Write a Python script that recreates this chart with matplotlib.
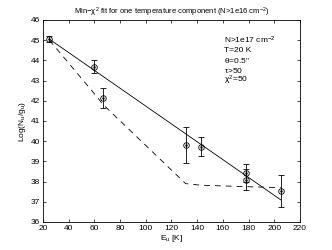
import numpy as np
import matplotlib as mpl
import matplotlib.pyplot as plt

mpl.rcParams['font.family'] = ['Liberation Sans', 'DejaVu Sans']
mpl.rcParams['font.size'] = 6
mpl.rcParams['axes.linewidth'] = 0.6
mpl.rcParams['xtick.direction'] = 'in'
mpl.rcParams['ytick.direction'] = 'in'
mpl.rcParams['xtick.major.size'] = 2.5
mpl.rcParams['ytick.major.size'] = 2.5
mpl.rcParams['xtick.major.width'] = 0.5
mpl.rcParams['ytick.major.width'] = 0.5
mpl.rcParams['mathtext.fontset'] = 'custom'
mpl.rcParams['mathtext.rm'] = 'Liberation Sans'
mpl.rcParams['mathtext.it'] = 'Liberation Sans'

# data points with errors
e_u = np.array([25, 60, 67, 131, 143, 178, 178, 205])
log_ng = np.array([45.07, 43.69, 42.12, 39.81, 39.73, 38.41, 38.1, 37.53])
err = np.array([0.15, 0.33, 0.5, 0.87, 0.46, 0.45, 0.5, 0.8])

# linear fit (solid)
fit_x = [25, 205]
fit_y = [45.05, 37.1]

# model curve (dashed)
model_x = [25, 60, 67, 131, 143, 178, 205]
model_y = [45.0, 42.35, 41.8, 37.9, 37.82, 37.75, 37.7]

fig = plt.figure(figsize=(3.32, 2.5), dpi=100)
ax = fig.add_axes([0.1295, 0.112, 0.774, 0.808])

ax.plot(fit_x, fit_y, 'k-', lw=0.6)
ax.plot(model_x, model_y, 'k--', lw=0.6, dashes=(7, 6))
ax.errorbar(e_u, log_ng, yerr=err, fmt='none', ecolor='k', elinewidth=0.6,
            capsize=2.5, capthick=0.6)
ax.plot(e_u, log_ng, ls='', marker='o', ms=4, mfc='none', mec='k', mew=0.6)
ax.plot(e_u, log_ng, ls='', marker='.', ms=1.5, color='k')

ax.set_xlim(20, 220)
ax.set_ylim(36, 46)
ax.set_xticks(np.arange(20, 221, 20))
ax.set_yticks(np.arange(36, 47, 1))
ax.tick_params(top=True, right=True, pad=2, labelsize=6)

ax.set_xlabel('E$_u$ [K]', labelpad=1)
ax.set_ylabel('Log(N$_u$/g$_u$)', labelpad=2)
ax.set_title('Min$-\\chi^2$ fit for one temperature component (N>1e16 cm$^{-2}$)',
             fontsize=5.5, pad=4)

info = ['N>1e17 cm$^{-2}$', 'T=20 K', '$\\theta$=0.5"', '$\\tau$>50', '$\\chi^2$=50']
for i, line in enumerate(info):
    ax.text(161, 45.0 - 0.5 * i, line, fontsize=6, va='center')

fig.savefig('out.png', dpi=100)
